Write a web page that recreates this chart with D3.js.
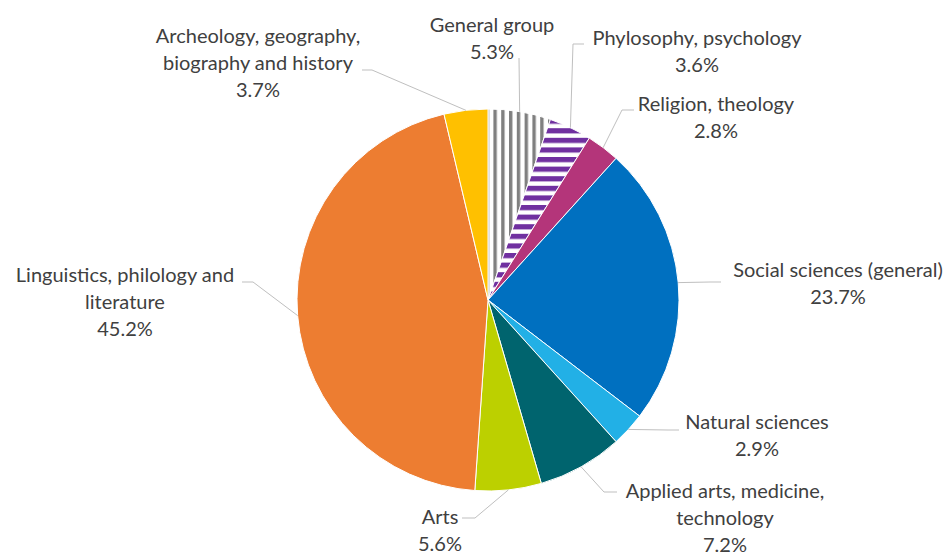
<!DOCTYPE html>
<html><head><meta charset="utf-8">
<script src="https://cdn.jsdelivr.net/npm/d3@7"></script>
<style>
html,body{margin:0;padding:0;background:#fff;}
svg{display:block;font-family:Lato,"Open Sans",sans-serif;}
</style></head>
<body>
<script>
// ---- data ----
const categories = ["General group","Phylosophy, psychology","Religion, theology","Social sciences (general)","Natural sciences","Applied arts, medicine, technology","Arts","Linguistics, philology and literature","Archeology, geography, biography and history"];
const values = [5.3, 3.6, 2.8, 23.7, 2.9, 7.2, 5.6, 45.2, 3.7];
const labelLines = [["General group"],["Phylosophy, psychology"],["Religion, theology"],["Social sciences (general)"],["Natural sciences"],["Applied arts, medicine,","technology"],["Arts"],["Linguistics, philology and","literature"],["Archeology, geography,","biography and history"]];
const fills = ["url(#pGray)","url(#pPurple)","#B4357A","#0070C0","#22B0E6","#00646E","#BCD000","#ED7D31","#FFC000"];

// ---- layout (label placement) ----
const W = 951, H = 555, cx = 488, cy = 300, R = 191;
const labelPos = [ // text center x, first-line y, leader start, leader elbow
  {x:492,y:24,s:[519,58],e:[519,58]},
  {x:697,y:37,s:[584,44],e:[573,44]},
  {x:716,y:103,s:[634,110],e:[622,110]},
  {x:838,y:269,s:[721,282],e:[710,282]},
  {x:757,y:421,s:[679,430],e:[668,430]},
  {x:725,y:490,s:[617,492],e:[604,492]},
  {x:440,y:516,s:[462,518],e:[475,518]},
  {x:125,y:274,s:[242,282],e:[253,282]},
  {x:258,y:35,s:[362,70],e:[372,70]}
];
const lineH = 27;

const svg = d3.select("body").append("svg").attr("width",W).attr("height",H);
const defs = svg.append("defs");
const pg = defs.append("pattern").attr("id","pGray").attr("patternUnits","userSpaceOnUse")
  .attr("x",489).attr("y",0).attr("width",7.8).attr("height",10);
pg.append("rect").attr("width",7.8).attr("height",10).attr("fill","#fff");
pg.append("rect").attr("width",3.4).attr("height",10).attr("fill","#808080");
const pp = defs.append("pattern").attr("id","pPurple").attr("patternUnits","userSpaceOnUse")
  .attr("x",0).attr("y",1).attr("width",10).attr("height",9.6);
pp.append("rect").attr("width",10).attr("height",9.6).attr("fill","#fff");
pp.append("rect").attr("width",10).attr("height",5.2).attr("fill","#7030A0");

const data = categories.map((c,i)=>({c, v:values[i], i}));
const pie = d3.pie().value(d=>d.v).sort(null);
const arcs = pie(data);
const arc = d3.arc().innerRadius(0).outerRadius(R);

const g = svg.append("g").attr("transform",`translate(${cx},${cy})`);
g.selectAll("path").data(arcs).join("path")
  .attr("d",arc).attr("fill",d=>fills[d.data.i])
  .attr("stroke","#fff").attr("stroke-width",1);

// leader lines
const leaders = svg.append("g");
arcs.forEach((a,i)=>{
  const m = (a.startAngle+a.endAngle)/2;
  const px = cx + R*Math.sin(m), py = cy - R*Math.cos(m);
  const L = labelPos[i];
  leaders.append("path")
    .attr("d",d3.line()([L.s, L.e, [px,py]]))
    .attr("fill","none").attr("stroke","#BFBFBF").attr("stroke-width",1);
});

// labels
const fmt = d3.format(".1f");
const lab = svg.append("g").attr("fill","#404040").attr("font-size","20px").attr("text-anchor","middle");
arcs.forEach((a,i)=>{
  const L = labelPos[i];
  const lines = labelLines[i].concat([fmt(a.data.v)+"%"]);
  const t = lab.append("text").attr("x",L.x).attr("y",L.y).attr("dominant-baseline","central");
  lines.forEach((s,k)=>{
    t.append("tspan").attr("x",L.x).attr("y",L.y+k*lineH).text(s);
  });
});
</script>
</body></html>
